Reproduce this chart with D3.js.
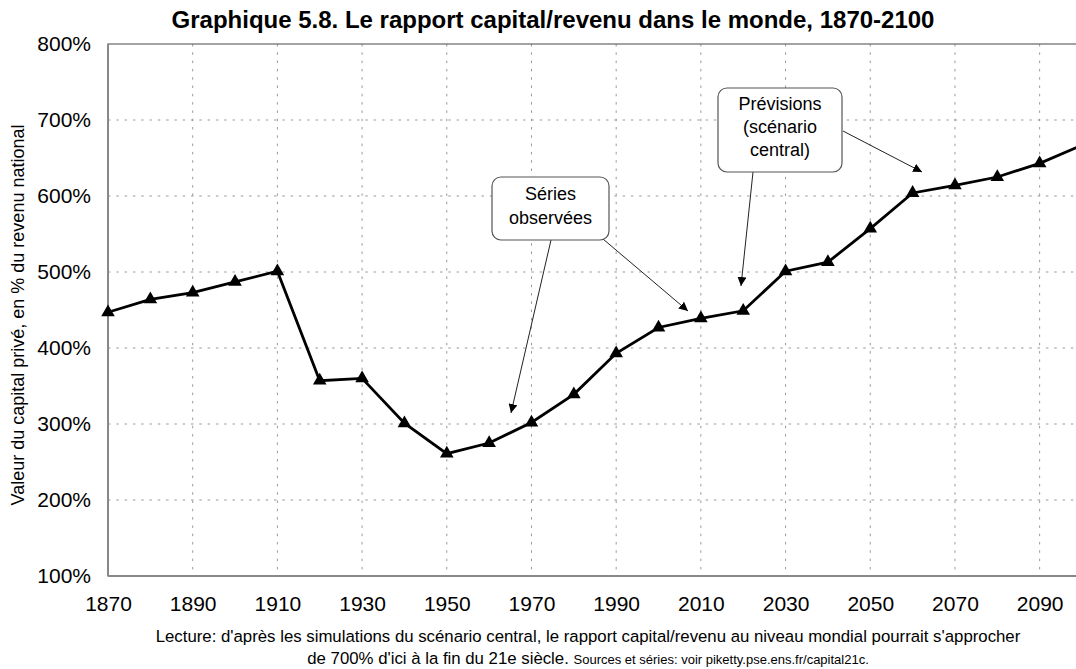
<!DOCTYPE html>
<meta charset="utf-8">
<script src="https://d3js.org/d3.v7.min.js"></script>
<style>
  body { margin: 0; background: #fff; }
  text { font-family: "Liberation Sans", Arial, sans-serif; }
</style>
<div id="chart"></div>
<script>
// capital/revenue ratio, % of national income, every 10 years
const years = [1870, 1880, 1890, 1900, 1910, 1920, 1930, 1940, 1950, 1960, 1970, 1980,
               1990, 2000, 2010, 2020, 2030, 2040, 2050, 2060, 2070, 2080, 2090, 2100];
const ratio = [447, 464, 473, 487, 501, 357, 360, 301, 261, 275, 302, 339,
               393, 427, 439, 449, 501, 513, 557, 604, 614, 625, 643, 667];
const xTicks = [1870, 1890, 1910, 1930, 1950, 1970, 1990, 2010, 2030, 2050, 2070, 2090];
const yTicks = [100, 200, 300, 400, 500, 600, 700, 800];

const W = 1076, H = 669;
const svg = d3.select("#chart").append("svg")
    .attr("width", W).attr("height", H);

const x = d3.scaleLinear().domain([1870, 2100]).range([108, 1082]);
const y = d3.scaleLinear().domain([100, 800]).range([576, 44]);

// title
svg.append("text")
  .attr("x", 553).attr("y", 28)
  .attr("text-anchor", "middle")
  .style("font-size", "24px").style("font-weight", "bold")
  .text("Graphique 5.8. Le rapport capital/revenu dans le monde, 1870-2100");

// grid
const grid = svg.append("g").attr("stroke", "#999").attr("stroke-width", 1)
  .attr("stroke-dasharray", "2.5,5.8");
grid.selectAll(".hg").data(yTicks.filter(d => d > 100 && d < 800)).join("line")
  .attr("x1", x(1870)).attr("x2", x(2100))
  .attr("y1", d => y(d)).attr("y2", d => y(d));
grid.selectAll(".vg").data(xTicks.filter(d => d > 1870)).join("line")
  .attr("x1", d => x(d)).attr("x2", d => x(d))
  .attr("y1", y(800)).attr("y2", y(100));

// frame
svg.append("rect")
  .attr("x", x(1870)).attr("y", y(800))
  .attr("width", x(2100) - x(1870)).attr("height", y(100) - y(800))
  .attr("fill", "none").attr("stroke", "#666").attr("stroke-width", 1.2);
svg.append("line").attr("x1", x(1870)).attr("x2", x(2100))
  .attr("y1", y(100)).attr("y2", y(100)).attr("stroke", "#888").attr("stroke-width", 2);
svg.append("line").attr("x1", x(1870)).attr("x2", x(1870))
  .attr("y1", y(800)).attr("y2", y(100)).attr("stroke", "#888").attr("stroke-width", 2);

// axes (labels only)
const yAxis = svg.append("g")
  .attr("transform", `translate(${x(1870)},0)`)
  .call(d3.axisLeft(y).tickValues(yTicks).tickSize(0).tickPadding(17).tickFormat(d => d + "%"));
const xAxis = svg.append("g")
  .attr("transform", `translate(0,${y(100)})`)
  .call(d3.axisBottom(x).tickValues(xTicks).tickSize(0).tickPadding(20).tickFormat(d3.format("d")));
[yAxis, xAxis].forEach(a => {
  a.select(".domain").remove();
  a.selectAll("text").style("font-size", "21px").attr("fill", "#000")
    .style("font-family", "'Liberation Sans', Arial, sans-serif");
});

// y title
svg.append("text")
  .attr("transform", "translate(24,315) rotate(-90)")
  .attr("text-anchor", "middle")
  .style("font-size", "18px")
  .text("Valeur du capital privé, en % du revenu national");

// series
const pts = years.map((yr, i) => ({year: yr, v: ratio[i]}));
svg.append("path").datum(pts)
  .attr("fill", "none").attr("stroke", "#000").attr("stroke-width", 2.8)
  .attr("d", d3.line().x(d => x(d.year)).y(d => y(d.v)));
svg.selectAll(".mk").data(pts).join("path")
  .attr("transform", d => `translate(${x(d.year)},${y(d.v)})`)
  .attr("d", d3.symbol().type(d3.symbolTriangle).size(80))
  .attr("fill", "#000");

// annotations
const defs = svg.append("defs");
defs.append("marker").attr("id", "arr")
  .attr("viewBox", "0 0 10 10").attr("refX", 10).attr("refY", 5)
  .attr("markerWidth", 9).attr("markerHeight", 9).attr("markerUnits", "userSpaceOnUse")
  .attr("orient", "auto")
  .append("path").attr("d", "M0,0 L10,5 L0,10 z").attr("fill", "#000");

function box(x0, y0, w, h, lines, lineY) {
  svg.append("rect").attr("x", x0).attr("y", y0).attr("width", w).attr("height", h)
    .attr("rx", 9).attr("fill", "#fff").attr("stroke", "#555").attr("stroke-width", 1.2);
  lines.forEach((t, i) => svg.append("text")
    .attr("x", x0 + w / 2).attr("y", lineY[i]).attr("text-anchor", "middle")
    .style("font-size", "18px").text(t));
}
function arrow(x1, y1, x2, y2) {
  svg.append("line").attr("x1", x1).attr("y1", y1).attr("x2", x2).attr("y2", y2)
    .attr("stroke", "#222").attr("stroke-width", 1).attr("marker-end", "url(#arr)");
}

arrow(551, 240, 511, 413);
arrow(603, 239, 688, 311);
box(492, 177, 117, 63, ["Séries", "observées"], [200, 224]);

arrow(753, 172, 741, 286);
arrow(843, 131, 922, 172);
box(718, 88, 124, 84, ["Prévisions", "(scénario", "central)"], [110, 133, 156]);

// footer
svg.append("text")
  .attr("x", 588).attr("y", 642).attr("text-anchor", "middle")
  .style("font-size", "16.8px")
  .text("Lecture: d'après les simulations du scénario central, le rapport capital/revenu au niveau mondial pourrait s'approcher");
const f2 = svg.append("text")
  .attr("x", 588).attr("y", 664).attr("text-anchor", "middle")
  .style("font-size", "16.8px");
f2.append("tspan").text("de 700% d'ici à la fin du 21e siècle. ");
f2.append("tspan")
  .style("font-size", "13px")
  .style("font-family", "'Liberation Sans Narrow', 'Arial Narrow', sans-serif")
  .text("Sources et séries: voir piketty.pse.ens.fr/capital21c.");
</script>
